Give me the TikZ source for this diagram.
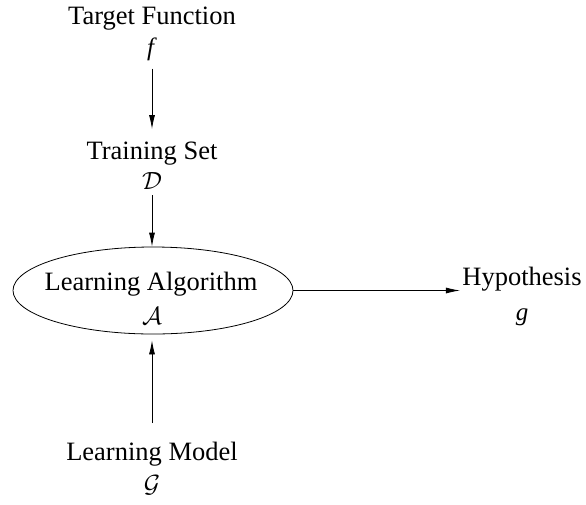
\documentclass[tikz,border=0pt]{standalone}
\usepackage{fontspec}
\setmainfont{Liberation Serif}
\usetikzlibrary{shapes.geometric,arrows.meta}
\begin{document}
\begin{tikzpicture}[x=1pt,y=-1pt,
  lbl/.style={font=\rmfamily\fontsize{26.5}{30}\selectfont, inner sep=0pt, anchor=base},
  sym/.style={font=\rmfamily\fontsize{25}{30}\selectfont, inner sep=0pt, anchor=base},
  arr/.style={-{Latex[length=14pt,width=6pt]}, line width=0.8pt},
  line width=0.8pt]
\useasboundingbox (0,0) rectangle (586,504);
\node[lbl] (tf) at (152,24) {Target Function};
\node[sym] (f) at (152,55) {\textit{f}};
\node[lbl] (ts) at (152,159) {Training Set};
\node[sym] (D) at (152,189) {$\mathcal{D}$};
\node[draw, ellipse, minimum width=280pt, minimum height=87pt, inner sep=0pt] (alg) at (153,290.5) {};
\node[lbl] (la) at (151,290) {Learning Algorithm};
\node[sym] (A) at (152,324) {$\mathcal{A}$};
\node[lbl] (hyp) at (522,285) {Hypothesis};
\node[sym] (g) at (522,320) {\textit{g}};
\node[lbl] (lm) at (152,460) {Learning Model};
\node[sym] (G) at (152,492) {$\mathcal{G}$};
\draw[arr, shorten <=8pt, shorten >=12pt] (f.south) -- (ts.north);
\draw[arr, shorten <=6pt] (D.south) -- (D.south |- alg.north);
\draw[arr] (alg.east) -- ([xshift=-2pt]alg.east -| hyp.west);
\draw[arr, shorten <=18pt, shorten >=6pt] (lm.north) -- (lm.north |- alg.south);
\end{tikzpicture}
\end{document}
